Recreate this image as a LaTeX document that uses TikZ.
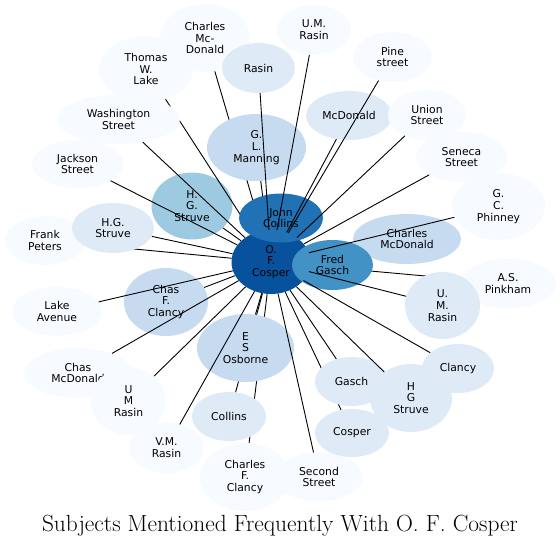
\documentclass[tikz,border=0pt]{standalone}
\usepackage{fontspec}
\newfontfamily\labelfont{DejaVu Sans}
\usetikzlibrary{shapes.geometric}
\definecolor{blues1}{HTML}{F7FBFF}
\definecolor{blues2}{HTML}{DEEBF7}
\definecolor{blues3}{HTML}{C6DBEF}
\definecolor{blues4}{HTML}{9ECAE1}
\definecolor{blues6}{HTML}{4292C6}
\definecolor{blues7}{HTML}{2171B5}
\definecolor{blues8}{HTML}{08519C}
\tikzset{subj/.style={ellipse,inner sep=0pt,align=center,font=\labelfont\fontsize{10.8}{11.8}\selectfont},
         link/.style={black,line width=0.9pt}}

\begin{document}
\begin{tikzpicture}[x=1pt,y=-1pt]
    \useasboundingbox (0,0) rectangle (560,546);
    % hub first, then each subject with its link
    \node (cosper) [subj,fill=blues8,minimum width=79,minimum height=64] at (271,262) {O.\\F.\\Cosper};

    \node (cmcdtop) [subj,fill=blues1,minimum width=90,minimum height=68] at (205,38) {Charles\\Mc-\\Donald}
        edge [link] (cosper);
    \node (struvea) [subj,fill=blues4,minimum width=81,minimum height=67] at (192,206) {H.\\G.\\Struve}
        edge [link] (cosper);
    \node (lake) [subj,fill=blues1,minimum width=94,minimum height=66] at (146,69) {Thomas\\W.\\Lake}
        edge [link] (cosper);
    \node (manning) [subj,fill=blues3,minimum width=99,minimum height=67] at (256.5,147.5) {G.\\L.\\Manning}
        edge [link] (cosper);
    \node (jcollins) [subj,fill=blues7,minimum width=84,minimum height=49] at (281,218) {John\\Collins};
    \node (washington) [subj,fill=blues1,minimum width=123,minimum height=49] at (118.5,119.5) {Washington\\Street}
        edge [link] (cosper);
    \node (jackson) [subj,fill=blues1,minimum width=91,minimum height=48] at (77.5,164) {Jackson\\Street}
        edge [link] (cosper);
    \node (rasin) [subj,fill=blues2,minimum width=73,minimum height=50] at (258.5,68) {Rasin}
        edge [link] (cosper);
    \node (umrasina) [subj,fill=blues1,minimum width=74,minimum height=50] at (314,30) {U.M.\\Rasin}
        edge [link] (cosper);
    \node (mcdonald) [subj,fill=blues2,minimum width=86,minimum height=49] at (349,115.5) {McDonald}
        edge [link] (cosper);
    \node (pine) [subj,fill=blues1,minimum width=79,minimum height=50] at (392.5,57) {Pine\\street}
        edge [link] (cosper);
    \node (union) [subj,fill=blues1,minimum width=78,minimum height=50] at (427,115) {Union\\Street}
        edge [link] (cosper);
    \node (seneca) [subj,fill=blues1,minimum width=91,minimum height=50] at (461.5,157) {Seneca\\Street}
        edge [link] (cosper);
    \node (cmcdmid) [subj,fill=blues3,minimum width=108,minimum height=50] at (407,239) {Charles\\McDonald}
        edge [link] (cosper);
    \node (pinkham) [subj,fill=blues1,minimum width=96,minimum height=49] at (508,283.5) {A.S.\\Pinkham}
        edge [link] (cosper);
    \node (fgasch) [subj,fill=blues6,minimum width=81,minimum height=50] at (332.5,265) {Fred\\Gasch};
    \node (phinney) [subj,fill=blues1,minimum width=93,minimum height=67] at (498.5,206.5) {G.\\C.\\Phinney}
        edge [link] (cosper);
    \node (umrasinb) [subj,fill=blues2,minimum width=75,minimum height=67] at (442.5,305.5) {U.\\M.\\Rasin}
        edge [link] (cosper);
    \node (peters) [subj,fill=blues1,minimum width=80,minimum height=49] at (45,240.5) {Frank\\Peters}
        edge [link] (cosper);
    \node (struveb) [subj,fill=blues2,minimum width=82,minimum height=50] at (113,228) {H.G.\\Struve}
        edge [link] (cosper);
    \node (clancya) [subj,fill=blues3,minimum width=84,minimum height=68] at (166,302) {Chas\\F.\\Clancy}
        edge [link] (cosper);
    \node (lakeave) [subj,fill=blues1,minimum width=90,minimum height=49] at (57,311.5) {Lake\\Avenue}
        edge [link] (cosper);
    \node (chasmcd) [subj,fill=blues1,minimum width=108,minimum height=50] at (78,373) {Chas\\McDonald}
        edge [link] (cosper);
    \node (umrasinc) [subj,fill=blues1,minimum width=75,minimum height=68] at (128.5,401) {U\\M\\Rasin}
        edge [link] (cosper);
    \node (cfclancy) [subj,fill=blues1,minimum width=90,minimum height=68] at (245,477) {Charles\\F.\\Clancy}
        edge [link] (cosper);
    \node (collins) [subj,fill=blues2,minimum width=74,minimum height=49] at (229,416.5) {Collins}
        edge [link] (cosper);
    \node (osborne) [subj,fill=blues3,minimum width=97,minimum height=68] at (245.5,348) {E\\S\\Osborne}
        edge [link] (cosper);
    \node (vmrasin) [subj,fill=blues1,minimum width=75,minimum height=50] at (166.5,448) {V.M.\\Rasin}
        edge [link] (cosper);
    \node (second) [subj,fill=blues1,minimum width=87,minimum height=49] at (319,477) {Second\\Street}
        edge [link] (cosper);
    \node (cosperb) [subj,fill=blues2,minimum width=74,minimum height=48] at (352,433) {Cosper}
        edge [link] (cosper);
    \node (gasch) [subj,fill=blues2,minimum width=73,minimum height=49] at (351.5,381.5) {Gasch}
        edge [link] (cosper);
    \node (struvec) [subj,fill=blues2,minimum width=82,minimum height=68] at (411,398) {H\\G\\Struve}
        edge [link] (cosper);
    \node (clancyb) [subj,fill=blues2,minimum width=72,minimum height=49] at (458,368.5) {Clancy}
        edge [link] (cosper);

    \node (title) [anchor=base,font=\fontsize{23.4}{28}\selectfont] at (280,531) {Subjects Mentioned Frequently With O. F. Cosper};
\end{tikzpicture}
\end{document}
